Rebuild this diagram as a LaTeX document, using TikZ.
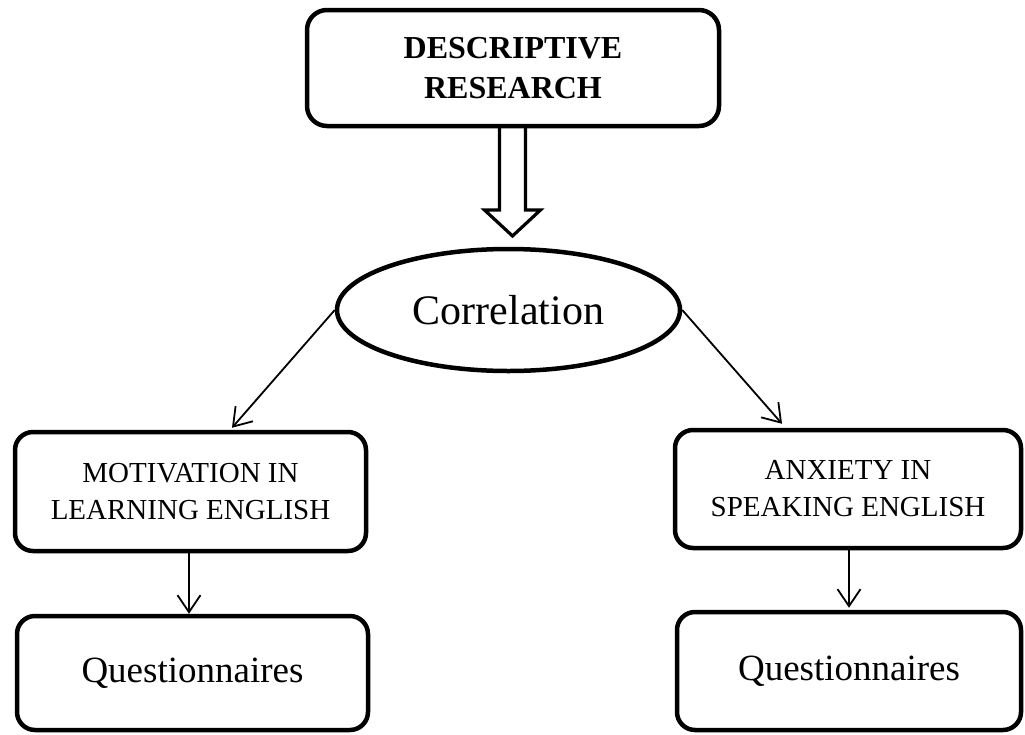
\documentclass[tikz,border=0pt]{standalone}
\usepackage{fontspec}
\setmainfont{Liberation Serif}
\usetikzlibrary{shapes.geometric,arrows.meta}
\begin{document}
\begin{tikzpicture}[x=1pt,y=1pt,
  box/.style={draw, line width=4.5pt, rounded corners=18pt, align=center, inner sep=0pt},
  midtext/.style={font=\fontsize{29}{37}\selectfont},
  qtext/.style={font=\fontsize{37}{44}\selectfont},
  conn/.style={line width=1.8pt, -{Straight Barb[length=17pt,width=23pt,line width=1.8pt]}},
  hollow/.style={draw, line width=3.2pt, line join=miter}
]
\useasboundingbox (0,0) rectangle (1025,-734);
\node[box, rounded corners=20pt, minimum width=412pt, minimum height=116pt,
      font=\bfseries\fontsize{32}{40}\selectfont] (top) at (513,-68) {DESCRIPTIVE\\RESEARCH};
\node[draw, ellipse, line width=4.5pt, minimum width=343pt, minimum height=122pt, inner sep=0pt,
      font=\fontsize{42}{50}\selectfont] (corr) at (508.5,-310) {Correlation};
\node[box, midtext, minimum width=351pt, minimum height=119pt] (lbox) at (190.5,-491.5) {MOTIVATION IN\\LEARNING ENGLISH};
\node[box, midtext, minimum width=346pt, minimum height=118pt] (rbox) at (848,-489) {ANXIETY IN\\SPEAKING ENGLISH};
\node[box, qtext, minimum width=351pt, minimum height=114pt] (lq) at (192.5,-673) {Questionnaires};
\node[box, qtext, minimum width=344pt, minimum height=118pt] (rq) at (849,-671) {Questionnaires};
% hollow arrow
\draw[hollow] (499.5,-127) -- (499.5,-210) -- (484.5,-210) -- (512.5,-236) -- (540.5,-210) -- (525.5,-210) -- (525.5,-127);
% connectors
\draw[conn] (corr.west) -- ([xshift=41.5pt,yshift=2pt]lbox.north);
\draw[conn] (corr.east) -- ([xshift=-66pt,yshift=4pt]rbox.north);
\draw[conn] ([xshift=-1.5pt]lbox.south) -- ([xshift=-3.5pt]lq.north);
\draw[conn] ([xshift=1pt]rbox.south) -- ([yshift=2pt]rq.north);
\end{tikzpicture}
\end{document}
